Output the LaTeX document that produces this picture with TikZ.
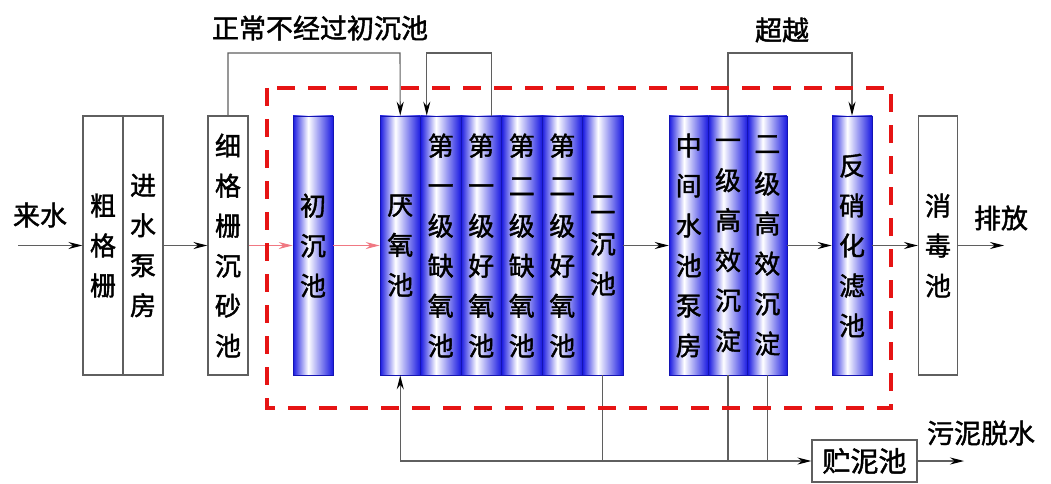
\documentclass[tikz,border=0pt]{standalone}
\usepackage{fontspec}
\newfontfamily\cjk[FakeBold=1.6]{Noto Sans CJK SC}
\usetikzlibrary{arrows.meta,calc}
\definecolor{colbl}{RGB}{25,25,225}
\definecolor{linegr}{RGB}{95,95,95}
\definecolor{pinkarr}{RGB}{240,120,130}
\definecolor{dashred}{RGB}{230,20,20}
\pgfdeclarehorizontalshading{colbar}{100bp}{color(0bp)=(colbl); color(25bp)=(colbl); color(44bp)=(white); color(75bp)=(colbl); color(100bp)=(colbl)}
\begin{document}
\begin{tikzpicture}[x=1pt,y=-1pt,
  plainbox/.style={draw=linegr, line width=1.1pt, fill=white, minimum width=40pt, minimum height=259pt, inner sep=0pt, align=center, font=\cjk\fontsize{26}{40}\selectfont},
  bluecol/.style={draw=colbl!80!black, line width=0.6pt, shading=colbar, minimum height=259pt, inner sep=0pt, align=center, font=\cjk\fontsize{26}{40}\selectfont},
  lbl/.style={font=\cjk\fontsize{27}{30}\selectfont, inner sep=0pt},
  flow/.style={draw=linegr, line width=1.1pt, -{Stealth[length=14pt,width=7pt,color=black,fill=black]}},
  pflow/.style={draw=pinkarr, line width=1pt, -{Stealth[length=14pt,width=7pt,color=pinkarr,fill=pinkarr]}},
  pipe/.style={draw=linegr, line width=1.1pt},
  redbox/.style={draw=dashred, line width=3.5pt, dash pattern=on 18pt off 13pt}
]
\useasboundingbox (0,0) rectangle (1051,484);

% plain boxes
\node[plainbox] (cgs) at (103,245.5) {粗\\格\\栅};
\node[plainbox] (jsbf) at (143,245.5) {进\\水\\泵\\房};
\node[plainbox] (xgs) at (228,245.5) {细\\格\\栅\\沉\\砂\\池};
\node[plainbox, minimum width=39pt] (xd) at (938,245.5) {消\\毒\\池};

% blue columns
\node[bluecol, minimum width=40pt] (ccc) at (313,245.5) {初\\沉\\池};
\node[bluecol, minimum width=40.5pt] (c1) at (400.25,245.5) {厌\\氧\\池};
\node[bluecol, minimum width=40.5pt] (c2) at (440.75,245.5) {第\\一\\级\\缺\\氧\\池};
\node[bluecol, minimum width=40.5pt] (c3) at (481.25,245.5) {第\\一\\级\\好\\氧\\池};
\node[bluecol, minimum width=40.5pt] (c4) at (521.75,245.5) {第\\二\\级\\缺\\氧\\池};
\node[bluecol, minimum width=40.5pt] (c5) at (562.25,245.5) {第\\二\\级\\好\\氧\\池};
\node[bluecol, minimum width=40.5pt] (c6) at (602.75,245.5) {二\\沉\\池};
\node[bluecol, minimum width=39.3pt] (g1) at (688.7,245.5) {中\\间\\水\\池\\泵\\房};
\node[bluecol, minimum width=39.3pt] (g2) at (728,245.5) {一\\级\\高\\效\\沉\\淀};
\node[bluecol, minimum width=39.3pt] (g3) at (767.3,245.5) {二\\级\\高\\效\\沉\\淀};
\node[bluecol, minimum width=40pt] (fx) at (852,245.5) {反\\硝\\化\\滤\\池};

% sludge tank
\node[draw=linegr, line width=1.1pt, minimum width=105pt, minimum height=42pt, inner sep=0pt, font=\cjk\fontsize{28}{30}\selectfont] (zn) at (864.5,461) {贮泥池};

% labels
\node[lbl] (t1) at (320,28) {正常不经过初沉池};
\node[lbl] (t2) at (782,30) {超越};
\node[lbl] (t3) at (40,215) {来水};
\node[lbl] (t4) at (1001,218) {排放};
\node[lbl] (t5) at (981,433) {污泥脱水};

% main flow
\coordinate (in) at (18,245.5);
\coordinate (out) at (1004,245.5);
\draw[flow] (in) -- (cgs.west);
\draw[flow] (jsbf.east) -- (xgs.west);
\draw[pflow] (xgs.east) -- (ccc.west);
\draw[pflow] (ccc.east) -- (c1.west);
\draw[flow] (c6.east) -- (g1.west);
\draw[flow] (g3.east) -- (fx.west);
\draw[flow] (fx.east) -- (xd.west);
\draw[flow] (xd.east) -- (out);

% top bypasses
\draw[flow] (xgs.north) |- (400,53) -- (c1.north);
\draw[flow] ([xshift=10pt]c3.north) |- ([xshift=-14pt]c2.north |- 0,53) -- ([xshift=-14pt]c2.north);
\draw[flow] (g2.north) |- (852,53) -- (fx.north);

% bottom sludge / return lines
\coordinate (bl) at (c1.south |- zn.west);
\draw[flow] (bl) -- (c1.south);
\draw[flow] (bl) -- (zn.west);
\draw[pipe] (c6.south) -- (c6.south |- zn.west);
\draw[pipe] (g2.south) -- (g2.south |- zn.west);
\draw[pipe] (g3.south) -- (g3.south |- zn.west);
\coordinate (sd) at (964,461);
\draw[flow] (zn.east) -- (sd);

% red dashed boundary
\draw[redbox] (267,88) rectangle (891,408);
\end{tikzpicture}
\end{document}
